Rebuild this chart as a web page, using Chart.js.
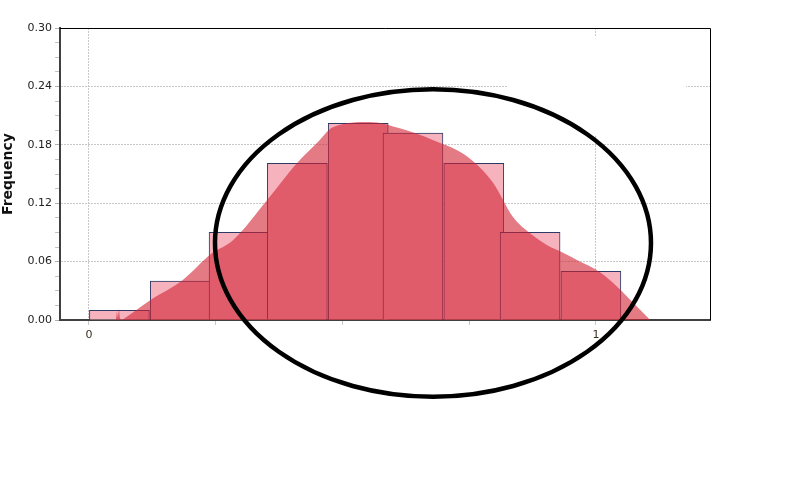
<!DOCTYPE html>
<html>
<head>
<meta charset="utf-8">
<script src="https://cdn.jsdelivr.net/npm/chart.js@4/dist/chart.umd.min.js"></script>
<style>
	html, body { margin: 0; padding: 0; background: #fff; }
	#wrap { width: 795px; height: 500px; }
</style>
</head>
<body>
<div id="wrap"><canvas id="histChart" width="795" height="500"></canvas></div>
<script>
// histogram bins (centre of bin, relative frequency)
const binCenters = [0.060, 0.180, 0.296, 0.411, 0.531, 0.639, 0.759, 0.870, 0.990];
const binFreq = [0.010, 0.040, 0.090, 0.161, 0.202, 0.192, 0.161, 0.090, 0.050];

// density estimate, read off the red area
const densityX = [0.041, 0.053, 0.055, 0.057, 0.059, 0.061, 0.065, 0.071, 0.120, 0.185, 0.241, 0.284, 0.351, 0.410, 0.450, 0.481, 0.554, 0.613, 0.678, 0.746, 0.797, 0.836, 0.870, 0.903, 0.935, 0.968, 1.002, 1.034, 1.067, 1.107];
const densityY = [0.000, 0.000, 0.008, 0.003, 0.011, 0.002, 0.000, 0.002, 0.020, 0.041, 0.068, 0.082, 0.123, 0.161, 0.182, 0.198, 0.2035, 0.197, 0.185, 0.168, 0.141, 0.106, 0.089, 0.077, 0.069, 0.060, 0.051, 0.038, 0.021, 0.000];

const xTickValues = [0, 0.25, 0.5, 0.75, 1];
const xLabelValues = [0, 1];
const yMajorTicks = [0, 0.06, 0.12, 0.18, 0.24, 0.30];

// hand drawn ring, in data units
const ringCenter = [0.6785, 0.0791];
const ringRadius = [0.430, 0.158];

function isMajorY(v) {
	return yMajorTicks.some(t => Math.abs(t - v) < 1e-6);
}

let histData = binCenters.map((c, i) => ({x: c, y: binFreq[i]}));
let densData = densityX.map((x, i) => ({x: x, y: densityY[i]}));

const framePlugin = {
	id: 'frame',
	beforeDatasetsDraw(chart) {
		// blank legend area covering part of the grid
		let ctx = chart.ctx;
		ctx.save();
		ctx.fillStyle = '#ffffff';
		ctx.fillRect(508, 37, 178, 99);
		ctx.restore();
	},
	afterDraw(chart) {
		let ctx = chart.ctx;
		let a = chart.chartArea;
		ctx.save();
		ctx.strokeStyle = '#000';
		ctx.lineWidth = 1;
		ctx.beginPath();
		ctx.moveTo(a.left, a.top + 0.5);
		ctx.lineTo(a.right + 0.5, a.top + 0.5);
		ctx.lineTo(a.right + 0.5, a.bottom);
		ctx.stroke();

		let xs = chart.scales.x, ys = chart.scales.y;
		let cx = xs.getPixelForValue(ringCenter[0]);
		let cy = ys.getPixelForValue(ringCenter[1]);
		let rx = xs.getPixelForValue(ringCenter[0] + ringRadius[0]) - cx;
		let ry = cy - ys.getPixelForValue(ringCenter[1] + ringRadius[1]);
		ctx.lineWidth = 4.5;
		ctx.beginPath();
		ctx.ellipse(cx, cy, rx, ry, 0, 0, Math.PI * 2);
		ctx.stroke();
		ctx.restore();
	}
};

var ctx = document.getElementById('histChart').getContext('2d');
var myChart = new Chart(ctx, {
	data: {
		datasets: [
		{
			type: 'line',
			label: 'Density',
			data: densData,
			order: 0,
			fill: 'origin',
			backgroundColor: 'rgba(210, 33, 50, 0.6)',
			borderWidth: 0,
			pointRadius: 0,
			cubicInterpolationMode: 'monotone'
		},
		{
			type: 'bar',
			label: 'Frequency',
			data: histData,
			order: 1,
			backgroundColor: '#f6b3be',
			borderColor: '#2b3a66',
			borderWidth: 1,
			barThickness: 60
		}
		]
	},
	options: {
		responsive: false,
		animation: false,
		layout: {
			padding: {left: 0, top: 28, right: 85, bottom: 0}
		},
		plugins: {
			legend: {display: false},
			tooltip: {enabled: false}
		},
		scales: {
			x: {
				type: 'linear',
				offset: false,
				min: -0.0572,
				max: 1.2249,
				afterBuildTicks: function(scale) {
					scale.ticks = xTickValues.map(v => ({value: v}));
				},
				afterFit: function(scale) {
					scale.height = 180;
				},
				ticks: {
					autoSkip: false,
					maxRotation: 0,
					padding: 4,
					color: '#3a3020',
					font: {family: 'DejaVu Sans', size: 11},
					callback: function(v) {
						return xLabelValues.includes(v) ? String(v) : '';
					}
				},
				grid: {
					offset: false,
					color: function(c) {
						return c.tick && xLabelValues.includes(c.tick.value) ? '#c8c8c8' : 'rgba(0,0,0,0)';
					},
					tickColor: '#c8c8c8',
					tickLength: 5,
					lineWidth: 1
				},
				border: {
					color: '#404040',
					width: 2,
					dash: [2, 1]
				}
			},
			y: {
				min: 0,
				max: 0.30,
				afterBuildTicks: function(scale) {
					let t = [];
					for (let i = 0; i <= 20; i++) {
						t.push({value: Math.round(i * 0.015 * 1000) / 1000});
					}
					scale.ticks = t;
				},
				afterFit: function(scale) {
					scale.width = 60;
				},
				ticks: {
					autoSkip: false,
					padding: 3,
					color: '#222',
					font: {family: 'DejaVu Sans', size: 11},
					callback: function(v) {
						return isMajorY(v) ? v.toFixed(2) : '';
					}
				},
				grid: {
					color: function(c) {
						return c.tick && isMajorY(c.tick.value) && c.tick.value > 0 ? '#c8c8c8' : 'rgba(0,0,0,0)';
					},
					tickColor: function(c) {
						return c.tick && isMajorY(c.tick.value) ? '#b0b0b0' : '#c4c4c4';
					},
					tickLength: 5,
					lineWidth: 1
				},
				border: {
					color: '#404040',
					width: 2,
					dash: [2, 1]
				},
				title: {
					display: true,
					text: 'Frequency',
					color: '#111',
					padding: {top: 0, bottom: 0},
					font: {family: 'DejaVu Sans', size: 14, weight: 'bold'}
				}
			}
		}
	},
	plugins: [framePlugin]
});
</script>
</body>
</html>
